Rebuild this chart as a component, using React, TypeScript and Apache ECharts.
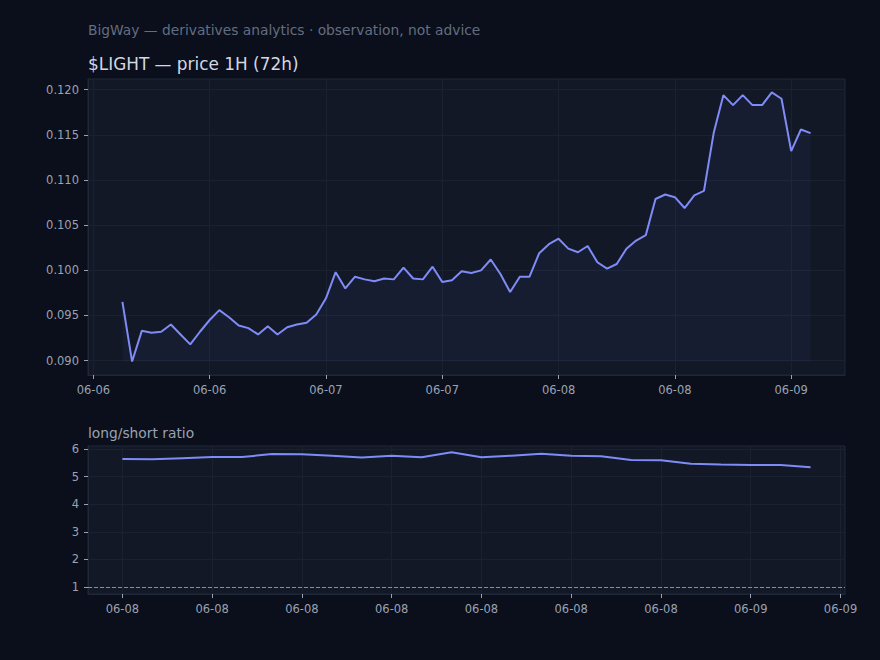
import React, { useEffect, useRef } from "react";
import * as echarts from "echarts";

// ---- data ----
// hours since 06-06 00:00 (UTC); price is hourly from 06-06 03:00 to 06-09 02:00
const priceStartHour = 3;
const priceValues = [
  0.0965, 0.0899, 0.0933, 0.0931, 0.0932, 0.094, 0.0929, 0.0918, 0.0932, 0.0945,
  0.0956, 0.0948, 0.0939, 0.0936, 0.0929, 0.0938, 0.0929, 0.0937, 0.094, 0.0942,
  0.0951, 0.0969, 0.0998, 0.098, 0.0993, 0.099, 0.0988, 0.0991, 0.099, 0.1003,
  0.0991, 0.099, 0.1004, 0.0987, 0.0989, 0.0999, 0.0997, 0.1, 0.1012, 0.0996,
  0.0976, 0.0993, 0.0993, 0.1019, 0.1029, 0.1035, 0.1024, 0.102, 0.1027, 0.1009,
  0.1002, 0.1007, 0.1024, 0.1033, 0.1039, 0.1079, 0.1084, 0.1081, 0.1069, 0.1083,
  0.1088, 0.1152, 0.1194, 0.1183, 0.1194, 0.1183, 0.1183, 0.1197, 0.119, 0.1132,
  0.1156, 0.1152,
];
// long/short ratio, hourly from 06-08 03:00 to 06-09 02:00
const ratioStartHour = 51;
const ratioValues = [
  5.64, 5.63, 5.67, 5.71, 5.71, 5.82, 5.81, 5.76, 5.69, 5.76, 5.7, 5.88,
  5.7, 5.76, 5.83, 5.76, 5.74, 5.6, 5.59, 5.47, 5.44, 5.42, 5.42, 5.34,
];

const priceTickHours = [0, 12, 24, 36, 48, 60, 72];
const priceTickLabels = ["06-06", "06-06", "06-07", "06-07", "06-08", "06-08", "06-09"];
const ratioTickHours = [51, 54, 57, 60, 63, 66, 69, 72, 75];
const ratioTickLabels = ["06-08", "06-08", "06-08", "06-08", "06-08", "06-08", "06-08", "06-09", "06-09"];
const priceYTicks = [0.09, 0.095, 0.1, 0.105, 0.11, 0.115, 0.12];
const ratioYTicks = [1, 2, 3, 4, 5, 6];
const ratioThreshold = 1;

const BG = "#0a0f1b";
const PLOT_BG = "#121826";
const BORDER = "#1f2838";
const GRIDLINE = "#1a2131";
const AXIS_TEXT = "#9aa2b3";
const LINE = "#7f8bf6";
const FONT = "DejaVu Sans";

function margins(xs: number[], frac: number): [number, number] {
  const lo = Math.min(...xs);
  const hi = Math.max(...xs);
  const pad = (hi - lo) * frac;
  return [lo - pad, hi + pad];
}

export default function App() {
  const ref = useRef<HTMLDivElement>(null);

  useEffect(() => {
    if (!ref.current) return;
    const chart = echarts.init(ref.current, undefined, { renderer: "svg" });

    const priceData = priceValues.map((v, i) => [priceStartHour + i, v]);
    const ratioData = ratioValues.map((v, i) => [ratioStartHour + i, v]);
    const [px0, px1] = margins(priceData.map((d) => d[0]), 0.05);
    const [py0, py1] = margins(priceValues, 0.05);
    const [rx0, rx1] = margins(ratioData.map((d) => d[0]), 0.05);
    const priceMin = Math.min(...priceValues);

    const labelFrom = (ticks: number[], labels: string[]) => (v: number) => {
      const idx = ticks.findIndex((t) => Math.abs(t - v) < 1e-6);
      return idx >= 0 ? labels[idx] : "";
    };

    const xAxisBase = (min: number, max: number, ticks: number[], labels: string[], gridIndex: number) => ({
      type: "value",
      gridIndex,
      min,
      max,
      axisLine: { show: true, onZero: false, lineStyle: { color: BORDER } },
      axisTick: { show: true, customValues: ticks, length: 4, lineStyle: { color: AXIS_TEXT } },
      axisLabel: {
        customValues: ticks,
        formatter: labelFrom(ticks, labels),
        color: AXIS_TEXT,
        fontSize: 11.5,
        fontFamily: FONT,
        margin: 9,
      },
      splitLine: { show: true, lineStyle: { color: GRIDLINE, width: 1 } },
    });

    const yAxisBase = (min: number, max: number, ticks: number[], fmt: (v: number) => string, gridIndex: number) => ({
      type: "value",
      gridIndex,
      min,
      max,
      axisLine: { show: true, onZero: false, lineStyle: { color: BORDER } },
      axisTick: { show: true, customValues: ticks, length: 4, lineStyle: { color: AXIS_TEXT } },
      axisLabel: {
        customValues: ticks,
        formatter: fmt,
        color: AXIS_TEXT,
        fontSize: 11.5,
        fontFamily: FONT,
        margin: 9,
      },
      splitLine: { show: true, lineStyle: { color: GRIDLINE, width: 1 } },
    });

    chart.setOption({
      animation: false,
      backgroundColor: BG,
      textStyle: { fontFamily: FONT },
      title: [
        {
          text: "BigWay — derivatives analytics · observation, not advice",
          left: 88,
          top: 23,
          padding: 0,
          textStyle: { color: "#646d80", fontSize: 13.8, fontWeight: "normal", fontFamily: FONT },
        },
        {
          text: "$LIGHT — price 1H (72h)",
          left: 88,
          top: 55,
          padding: 0,
          textStyle: { color: "#d3d8e2", fontSize: 16.9, fontWeight: "normal", fontFamily: FONT },
        },
        {
          text: "long/short ratio",
          left: 88,
          top: 426,
          padding: 0,
          textStyle: { color: "#9aa2b3", fontSize: 13.8, fontWeight: "normal", fontFamily: FONT },
        },
      ],
      grid: [
        { left: 88, right: 35, top: 79, height: 296, show: true, backgroundColor: PLOT_BG, borderColor: BORDER, borderWidth: 1 },
        { left: 88, right: 35, top: 446, height: 148, show: true, backgroundColor: PLOT_BG, borderColor: BORDER, borderWidth: 1 },
      ],
      xAxis: [
        xAxisBase(px0, px1, priceTickHours, priceTickLabels, 0),
        xAxisBase(rx0, rx1, ratioTickHours, ratioTickLabels, 1),
      ],
      yAxis: [
        yAxisBase(py0, py1, priceYTicks, (v: number) => v.toFixed(3), 0),
        yAxisBase(0.75, 6.11, ratioYTicks, (v: number) => String(Math.round(v)), 1),
      ],
      series: [
        {
          type: "line",
          xAxisIndex: 0,
          yAxisIndex: 0,
          data: priceData,
          showSymbol: false,
          lineStyle: { color: LINE, width: 2 },
          itemStyle: { color: LINE },
          areaStyle: { color: "rgba(110,125,245,0.08)", origin: priceMin },
        },
        {
          type: "line",
          xAxisIndex: 1,
          yAxisIndex: 1,
          data: ratioData,
          showSymbol: false,
          lineStyle: { color: LINE, width: 2 },
          itemStyle: { color: LINE },
          markLine: {
            silent: true,
            symbol: "none",
            label: { show: false },
            lineStyle: { color: "rgba(170,178,195,0.75)", type: [4, 2], width: 1 },
            data: [{ yAxis: ratioThreshold }],
          },
        },
      ],
    });

    return () => chart.dispose();
  }, []);

  return (
    <div
      ref={ref}
      style={{ position: "fixed", left: 0, top: 0, width: 880, height: 660 }}
    />
  );
}
